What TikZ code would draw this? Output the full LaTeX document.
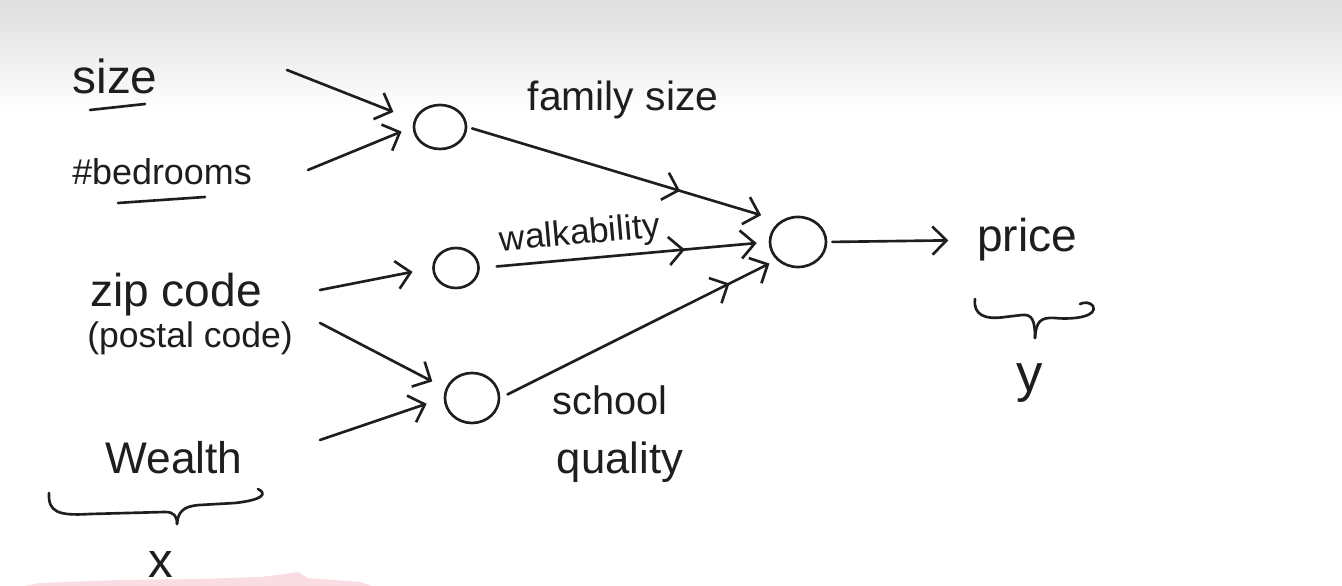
\documentclass[tikz,border=0pt]{standalone}
\usepackage{fontspec}
\setmainfont{Liberation Sans}
\usetikzlibrary{arrows.meta,shapes.geometric,decorations.markings}
\definecolor{ink}{HTML}{1E1E1E}
\definecolor{smudge}{HTML}{F9DDE3}
\begin{document}
\begin{tikzpicture}[x=0.01cm,y=-0.01cm,
  ink line/.style={draw=ink,line width=0.75pt,line cap=round,line join=round},
  barb/.tip={Straight Barb[length=4pt,width=8pt,line width=0.75pt]},
  arr/.style={ink line,-barb},
  unit/.style={ellipse,ink line,inner sep=0pt},
  lbl/.style={text=ink,inner sep=0pt,font={\fontsize{#1}{#1}\selectfont}},
  midarrow/.style={postaction={decorate,decoration={markings,
      mark=at position #1 with {\arrow[ink,line width=0.75pt]{barb}}}}},
]
% canvas and soft grey top band
\useasboundingbox (0,0) rectangle (1342,586);
\fill[white] (0,0) rectangle (1342,586);
\shade[top color=black!13,bottom color=white] (0,0) rectangle (1342,112);
\fill[smudge] (25,586) -- (40,583) -- (120,580) -- (200,579) -- (260,577)
  -- (285,574) -- (298,572) -- (308,578) -- (360,582) -- (372,586) -- cycle;

% input features
\node[lbl=13.6] (size) at (115,76) {size};
\node[lbl=10.2] (bed) at (162,172) {\#bedrooms};
\node[lbl=13.1] (zip) at (176,295) {zip code};
\node[lbl=10.1] (postal) at (190,338) {(postal code)};
\node[lbl=12.6] (wealth) at (174,458) {Wealth};
\node[lbl=14] (xlab) at (161,565) {x};
\draw[ink line] (90,110) -- (145,104);
\draw[ink line] (118,203) -- (205,197);

% brace collecting the inputs
\draw[ink line] (49,493) .. controls (48,512) and (58,516) .. (90,514) -- (165,512)
  .. controls (174,512) and (177,516) .. (177,524);
\draw[ink line] (177,524) .. controls (178,512) and (183,506) .. (200,505) -- (235,503)
  .. controls (262,500) and (268,494) .. (258,489);

% hidden units and output unit
\node[unit,minimum width=0.52cm,minimum height=0.44cm] (h1) at (440,127) {};
\node[unit,minimum width=0.45cm,minimum height=0.40cm] (h2) at (456,268) {};
\node[unit,minimum width=0.54cm,minimum height=0.50cm] (h3) at (472,398) {};
\node[unit,minimum width=0.56cm,minimum height=0.50cm] (out) at (798,242) {};

% connector tails beside the input texts
\coordinate (sizeA) at (287,70);
\coordinate (bedA) at (308,170);
\coordinate (zipA) at (320,290);
\coordinate (zipB) at (320,323);
\coordinate (wealthA) at (320,440);

\draw[arr,shorten >=0.22cm] (sizeA) -- (h1.165);
\draw[arr,shorten >=0.12cm] (bedA) -- (h1.west);
\draw[arr,shorten >=0.2cm] (zipA) -- (h2.west);
\draw[arr,shorten >=0.15cm] (zipB) -- (h3.160);
\draw[arr,shorten >=0.18cm] (wealthA) -- (h3.west);

% hidden features into the output unit
\draw[arr,midarrow=0.68,shorten <=0.05cm,shorten >=0.2cm] (h1.east) -- (out.130);
\draw[arr,midarrow=0.71,shorten <=0.17cm,shorten >=0.12cm] (h2.east) -- (out.west);
\draw[arr,midarrow=0.83,shorten <=0.08cm,shorten >=0.08cm] (h3.east) -- (out.220);

\node[lbl=11.6] (fam) at (623,100) {family size};
\node[lbl=10,rotate=5] (walk) at (580,235) {walkability};
\node[lbl=11.3] (school) at (610,400) {school};
\node[lbl=12.4] (quality) at (620,462) {quality};

% prediction
\node[lbl=13.1] (price) at (1027,240) {price};
\draw[arr,shorten <=0.05cm,shorten >=0.28cm] (out.east) -- (price.west);
\draw[ink line] (975,299) .. controls (973,315) and (985,320) .. (1005,317) -- (1022,315)
  .. controls (1032,314) and (1035,320) .. (1035,338);
\draw[ink line] (1035,338) .. controls (1036,322) and (1040,317) .. (1055,318)
  .. controls (1075,320) and (1098,316) .. (1093,306) .. controls (1090,302) and (1084,302) .. (1080,304);
\node[lbl=15] (ylab) at (1030,383) {y};
\end{tikzpicture}
\end{document}
